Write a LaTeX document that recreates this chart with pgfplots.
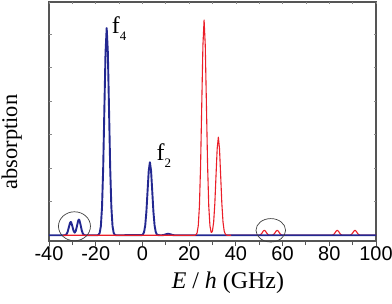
\documentclass[border=0pt]{standalone}
\usepackage{pgfplots}
\pgfplotsset{compat=1.18}
\usepackage{fontspec}
\setmainfont{Liberation Serif}
\newfontfamily\arial{Liberation Sans}
\definecolor{cblue}{RGB}{35,40,145}
\definecolor{cred}{RGB}{235,30,40}
\definecolor{frame}{RGB}{85,85,85}
\begin{document}
\begin{tikzpicture}
\begin{axis}[
  name=ax,
  scale only axis, width=327bp, height=239bp,
  xmin=-40, xmax=100, ymin=-0.0285, ymax=1.165,
  axis line style={draw=frame, line width=1.1bp},
  tick style={draw=frame, line width=0.9bp},
  tick align=outside, xtick pos=left,
  xtick={-40,-20,...,100},
  xticklabels={-40,-20,0,20,40,60,80,100},
  minor x tick num=1,
  major tick length=5bp, minor tick length=4bp,
  ytick=\empty,
  xticklabel style={font=\fontsize{20}{20}\arial, text=black, inner sep=0pt},
  clip=false,
  xlabel={\textit{E} / \textit{h} (GHz)},
  xlabel style={at={(axis description cs:0.547,-0.2008)}, anchor=base, font=\fontsize{24}{24}\selectfont},
  ylabel={absorption},
  ylabel style={at={(axis description cs:-0.114,0.414)}, anchor=center, font=\fontsize{22.5}{22.5}\selectfont},
]
% red, right part (drawn below blue)
\addplot[cred, line width=1.1bp, line join=round] coordinates {
(38,0) (49.7,0.0002) (50.2,0.0011) (50.7,0.0043) (51.2,0.0115) (51.7,0.0206) (52.2,0.025) (52.7,0.0206) (53.2,0.0115) (53.7,0.0043) (54.2,0.0011) (54.7,0.0002)
(55.2,0.0002) (55.7,0.0011) (56.2,0.0043) (56.7,0.0115) (57.2,0.0206) (57.7,0.025) (58.2,0.0206) (58.7,0.0115) (59.2,0.0043) (59.7,0.0011) (60.2,0.0002)
(80.9,0.0002) (81.4,0.0011) (81.9,0.0043) (82.4,0.0115) (82.9,0.0206) (83.4,0.025) (83.9,0.0206) (84.4,0.0115) (84.9,0.0043) (85.4,0.0011) (85.9,0.0002)
(88.5,0.0002) (89,0.0011) (89.5,0.0043) (90,0.0115) (90.5,0.0206) (91,0.025) (91.5,0.0206) (92,0.0115) (92.5,0.0043) (93,0.0011) (93.5,0.0002) (100,0)
};
% blue
\addplot[cblue, line width=1.9bp, line join=round] coordinates {
(-40,0) (-34,0) (-33.5,0.0001) (-33,0.0011) (-32.5,0.0053) (-32,0.0178) (-31.5,0.0403) (-31,0.062) (-30.7,0.0665) (-30.5,0.0644) (-30,0.0455) (-29.5,0.0229) (-29,0.0132) (-28.5,0.0225) (-28,0.0479) (-27.5,0.0732) (-27.2,0.0785) (-27,0.0761) (-26.5,0.0535) (-26,0.0255) (-25.5,0.0082) (-25,0.0018) (-24.5,0.0003) (-24,0)
(-19.3,0.0003) (-18.8,0.0023) (-18.3,0.0115) (-17.8,0.0454) (-17.3,0.140) (-16.8,0.336) (-16.3,0.628) (-15.8,0.913) (-15.3,1.035) (-14.8,0.913) (-14.3,0.628) (-13.8,0.336) (-13.3,0.140) (-12.8,0.0454) (-12.3,0.0115) (-11.8,0.0023) (-11.3,0.0003)
(-0.3,0.0008) (0.2,0.0041) (0.7,0.016) (1.2,0.0494) (1.7,0.1185) (2.2,0.221) (2.7,0.322) (3.2,0.365) (3.7,0.322) (4.2,0.221) (4.7,0.1185) (5.2,0.0494) (5.7,0.016) (6.2,0.0041) (6.7,0.0008)
(8,0) (9,0.001) (10,0.0049) (11,0.008) (12,0.0049) (13,0.001) (14,0) (100,0)
};
% red, left part (drawn over blue)
\addplot[cred, line width=1.1bp, line join=round] coordinates {
(-34,0) (22.4,0.0003) (22.9,0.0024) (23.4,0.0119) (23.9,0.0472) (24.4,0.1455) (24.9,0.349) (25.4,0.652) (25.9,0.949) (26.4,1.075) (26.9,0.949) (27.4,0.652) (27.9,0.349) (28.4,0.1455) (28.9,0.048) (29.4,0.0159) (29.5,0.0142) (29.9,0.0191) (30,0.0232) (30.5,0.0665) (31,0.159) (31.5,0.297) (32,0.432) (32.5,0.49) (33,0.432) (33.5,0.297) (34,0.159) (34.5,0.0663) (35,0.0215) (35.5,0.0054) (36,0.0011) (36.5,0.0002) (38,0)
};
\draw[black!75, line width=0.7bp] (axis cs:-29.1,0.045) ellipse [x radius=16bp, y radius=14.5bp];
\draw[black!75, line width=0.7bp] (axis cs:54.95,0.025) ellipse [x radius=14.8bp, y radius=11.7bp];
\node[anchor=base west, inner sep=0pt, font=\fontsize{24}{24}\selectfont] at (axis cs:-13.2,1.01) {f\raisebox{-7bp}{\fontsize{13}{13}\selectfont 4}};
\node[anchor=base west, inner sep=0pt, font=\fontsize{24}{24}\selectfont] at (axis cs:6.0,0.375) {f\raisebox{-7bp}{\fontsize{13}{13}\selectfont 2}};
\end{axis}
\begin{axis}[
  scale only axis, width=327bp, height=239bp,
  xmin=-40, xmax=100, ymin=-0.0285, ymax=1.165,
  axis line style={draw=none},
  tick style={draw=frame!70, line width=0.6bp},
  tick align=inside, xtick pos=right, ytick pos=both,
  xtick={-40,-30,...,100}, xticklabels={},
  ytick={0.1675,0.335,0.5025,0.67,0.8375,1.005}, yticklabels={},
  major tick length=2.5bp,
]
\end{axis}
\pgfresetboundingbox
\path[use as bounding box] ([shift={(-49bp,-63bp)}]ax.south west) rectangle ([shift={(16bp,2bp)}]ax.north east);
\end{tikzpicture}
\end{document}
